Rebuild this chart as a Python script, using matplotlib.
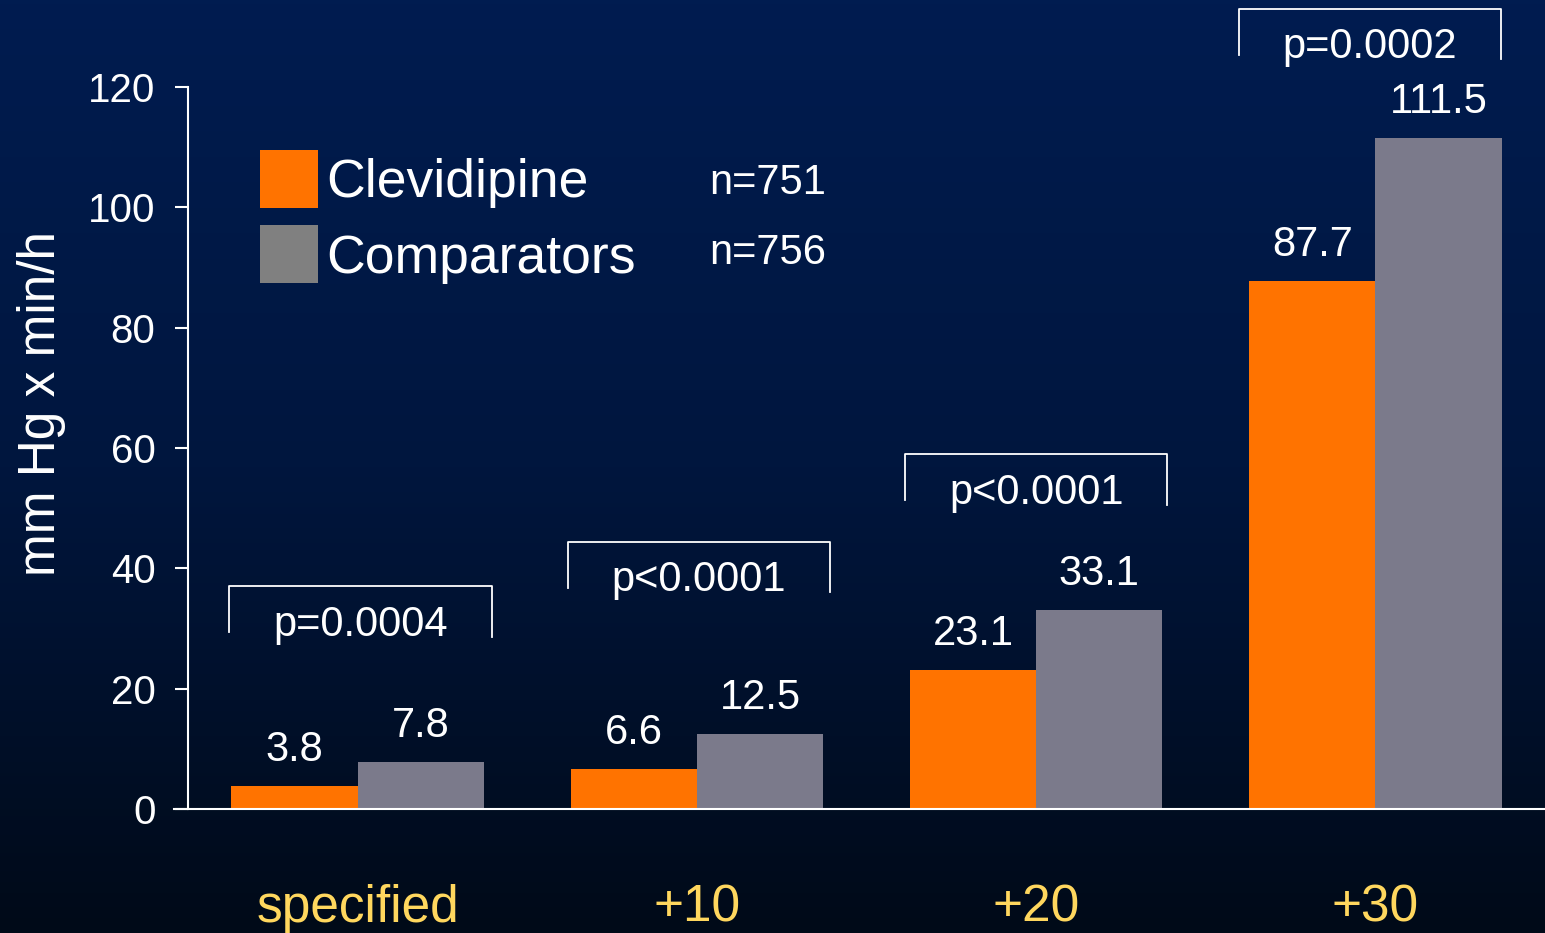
#!/usr/bin/env python3
"""AUC of blood pressure excursions: Clevidipine vs comparators."""

import numpy as np
import matplotlib.pyplot as plt
from matplotlib.colors import LinearSegmentedColormap
from matplotlib.patches import Rectangle

plt.rcParams["font.family"] = ["Liberation Sans", "DejaVu Sans"]

# Data
categories = ["specified", "+10", "+20", "+30"]
clevidipine = [3.8, 6.6, 23.1, 87.7]
comparators = [7.8, 12.5, 33.1, 111.5]
p_values = ["p=0.0004", "p<0.0001", "p<0.0001", "p=0.0002"]
series_names = ["Clevidipine", "Comparators"]
n_counts = ["n=751", "n=756"]

# Style
ORANGE = "#FF7300"
GRAY_BAR = "#7B7A8B"
GRAY_KEY = "#808080"
YELLOW = "#FFD75E"
bracket_levels = [37.0, 44.4, 59.0, 133.0]
bracket_shift = [0.008, 0.006, 0.0, -0.016]

fig = plt.figure(figsize=(15.45, 9.33), dpi=100)

# Background gradient
bg = fig.add_axes([0, 0, 1, 1], zorder=-10)
cmap = LinearSegmentedColormap.from_list(
    "bg", [(0.0, "#000A18"), (0.5, "#00163E"), (1.0, "#001C50")])
grad = np.linspace(0, 1, 256).reshape(-1, 1)
bg.imshow(grad, cmap=cmap, aspect="auto", origin="lower", extent=[0, 1, 0, 1])
bg.axis("off")

ax = fig.add_axes([188 / 1545, 1 - 809 / 933, 1 - 188 / 1545, (809 - 87) / 933])
ax.patch.set_alpha(0)

x = np.arange(len(categories))
w = 0.372
ax.bar(x - w / 2, clevidipine, w, color=ORANGE, zorder=2)
ax.bar(x + w / 2, comparators, w, color=GRAY_BAR, zorder=2)

# Value labels
for xi, v in zip(x - w / 2, clevidipine):
    ax.annotate(f"{v}", (xi, v), xytext=(0, 18), textcoords="offset points",
                ha="center", va="baseline", color="white", fontsize=30)
for xi, v in zip(x + w / 2, comparators):
    ax.annotate(f"{v}", (xi, v), xytext=(0, 18), textcoords="offset points",
                ha="center", va="baseline", color="white", fontsize=30)

# Significance brackets
for xi, dx, lvl, p in zip(x, bracket_shift, bracket_levels, p_values):
    xc = xi + dx
    xl, xr = xc - 0.387, xc + 0.387
    ax.plot([xl, xl, xr, xr], [lvl - 7.6, lvl, lvl, lvl - 8.4], color="white",
            lw=1.3, clip_on=False, zorder=3)
    ax.text(xc, lvl - 6.4, p, ha="center", va="center", color="white",
            fontsize=30, clip_on=False)

ax.set_xlim(-0.5, 3.5)
ax.set_ylim(0, 120)
ax.set_yticks(range(0, 121, 20))
ax.set_xticks(x)
ax.set_xticklabels(categories, color=YELLOW, fontsize=37)
ax.tick_params(axis="x", length=0, pad=54)
ax.tick_params(axis="y", colors="white", labelsize=29, length=9.4, width=1.5, pad=14)

for side in ["top", "right"]:
    ax.spines[side].set_visible(False)
ax.spines["left"].set_color("white")
ax.spines["left"].set_linewidth(1.5)
ax.spines["bottom"].set_color("white")
ax.spines["bottom"].set_linewidth(1.5)
ax.spines["bottom"].set_bounds(-0.54, 3.5)

fig.text(42 / 1545, 1 - 404 / 933, "mm Hg x min/h", rotation=90, ha="center",
         va="center", color="white", fontsize=37)

# Legend
key_colors = [ORANGE, GRAY_KEY]
key_tops = [150, 225]
text_base = [197, 273]
n_base = [194, 264]
for c, top, name, tb, n, nb in zip(key_colors, key_tops, series_names,
                                    text_base, n_counts, n_base):
    fig.patches.append(Rectangle((260 / 1545, 1 - (top + 58) / 933), 58 / 1545,
                                 58 / 933, transform=fig.transFigure,
                                 facecolor=c, edgecolor="none"))
    fig.text(326 / 1545, 1 - tb / 933, name, ha="left", va="baseline",
             color="white", fontsize=38.5)
    fig.text(709 / 1545, 1 - nb / 933, n, ha="left", va="baseline",
             color="white", fontsize=30)

plt.savefig("out.png", dpi=100)
